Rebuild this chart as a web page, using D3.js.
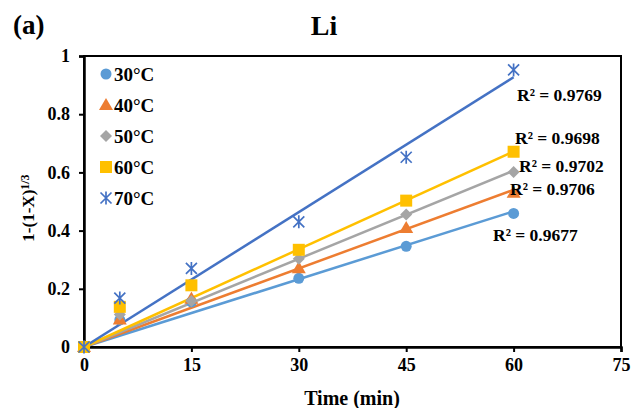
<!DOCTYPE html>
<html><head><meta charset="utf-8">
<script src="https://cdn.jsdelivr.net/npm/d3@7"></script>
<style>body{margin:0;background:#fff;} svg{display:block;} text{font-family:"Liberation Serif","Times New Roman",serif;font-weight:bold;fill:#000;}</style>
</head><body><svg id="c" width="633" height="408"></svg>
<script>
const times = [0, 5, 15, 30, 45, 60];
const seriesNames = ["30°C", "40°C", "50°C", "60°C", "70°C"];
const v30 = [0, 0.093, 0.155, 0.236, 0.346, 0.459];
const v40 = [0, 0.095, 0.166, 0.271, 0.409, 0.53];
const v50 = [0, 0.112, 0.158, 0.303, 0.455, 0.601];
const v60 = [0, 0.138, 0.212, 0.334, 0.503, 0.671];
const v70 = [0, 0.168, 0.27, 0.43, 0.652, 0.952];
const trendSlopes = [0.00777, 0.0090, 0.0101, 0.0112, 0.01545];
const r2Labels = ["R² = 0.9677", "R² = 0.9706", "R² = 0.9702", "R² = 0.9698", "R² = 0.9769"];
const colors = ["#5B9BD5", "#ED7D31", "#A5A5A5", "#FFC000", "#4472C4"];
const xTicks = [0, 15, 30, 45, 60, 75];
const yTicks = [0, 0.2, 0.4, 0.6, 0.8, 1];

const values = [v30, v40, v50, v60, v70];
const svg = d3.select("#c");
const x = d3.scaleLinear().domain([0, 75]).range([84, 621]);
const y = d3.scaleLinear().domain([0, 1]).range([347, 56]);

// frame
svg.append("rect").attr("x", 84).attr("y", 56).attr("width", 621-84).attr("height", 347-56)
  .attr("fill", "none").attr("stroke", "#000").attr("stroke-width", 2);

const xAxis = svg.append("g").attr("transform", "translate(0,347)")
  .call(d3.axisBottom(x).tickValues(xTicks).tickSize(5).tickPadding(6).tickFormat(d3.format("d")));
const yAxis = svg.append("g").attr("transform", "translate(84,0)")
  .call(d3.axisLeft(y).tickValues(yTicks).tickSize(5).tickPadding(9).tickFormat(d => d === 0 || d === 1 ? d3.format("d")(d) : d3.format(".1f")(d)));
[xAxis, yAxis].forEach(g => {
  g.select(".domain").attr("stroke", "#000").attr("stroke-width", 2.5);
  g.selectAll(".tick line").attr("stroke", "#000").attr("stroke-width", 2);
  g.selectAll(".tick text").style("font-family", "'Liberation Serif',serif").style("font-weight", "bold").style("font-size", "18px").attr("fill", "#000");
});

// trend lines
values.forEach((vals, i) => {
  svg.append("line")
    .attr("x1", x(0)).attr("y1", y(0))
    .attr("x2", x(60)).attr("y2", y(trendSlopes[i] * 60))
    .attr("stroke", colors[i]).attr("stroke-width", 2.5);
});

function drawMarker(g, i, cx, cy) {
  const c = colors[i];
  if (i === 0) g.append("circle").attr("cx", cx).attr("cy", cy).attr("r", 5.5).attr("fill", c);
  else if (i === 1) g.append("path").attr("d", d3.symbol(d3.symbolTriangle, 85)()).attr("transform", `translate(${cx},${cy+1})`).attr("fill", c);
  else if (i === 2) g.append("path").attr("d", `M${cx},${cy-6}L${cx+6},${cy}L${cx},${cy+6}L${cx-6},${cy}Z`).attr("fill", c);
  else if (i === 3) g.append("rect").attr("x", cx-6).attr("y", cy-6).attr("width", 12).attr("height", 12).attr("fill", c);
  else {
    const s = 5.5;
    g.append("path").attr("d", `M${cx-s},${cy-s}L${cx+s},${cy+s}M${cx-s},${cy+s}L${cx+s},${cy-s}M${cx},${cy-s-1}L${cx},${cy+s+1}`)
      .attr("stroke", c).attr("stroke-width", 1.7).attr("fill", "none");
  }
}

// markers
const mg = svg.append("g");
values.forEach((vals, i) => {
  vals.forEach((v, k) => drawMarker(mg, i, x(times[k]), y(v)));
});

// R² labels
const r2Pos = [[493, 235], [510, 189], [519, 166], [515, 138], [517, 95]];
r2Labels.forEach((t, i) => {
  svg.append("text").attr("x", r2Pos[i][0]).attr("y", r2Pos[i][1]).attr("dy", "0.35em")
    .style("font-size", "17.5px").text(t);
});

// legend
const lg = svg.append("g");
seriesNames.forEach((n, i) => {
  const ly = 74 + i * 31;
  drawMarker(lg, i, 106, ly);
  lg.append("text").attr("x", 114).attr("y", ly).attr("dy", "0.35em").style("font-size", "19px").text(n);
});

// titles
svg.append("text").attr("x", 324).attr("y", 35).attr("text-anchor", "middle").style("font-size", "28px").text("Li");
svg.append("text").attr("x", 13).attr("y", 34).style("font-size", "27px").text("(a)");
svg.append("text").attr("x", 352).attr("y", 405).attr("text-anchor", "middle").style("font-size", "20px").text("Time (min)");
const yl = svg.append("text").attr("transform", "translate(34,208) rotate(-90)").attr("text-anchor", "middle").style("font-size", "17px");
yl.append("tspan").text("1-(1-X)");
yl.append("tspan").attr("dy", "-0.45em").style("font-size", "12px").text("1/3");
</script></body></html>
